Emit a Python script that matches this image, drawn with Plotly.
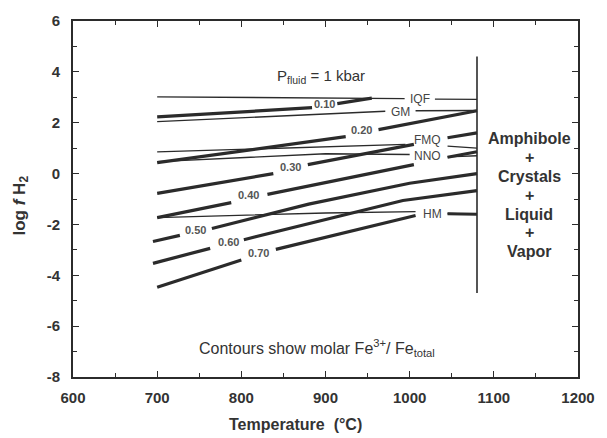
import plotly.graph_objects as go

# ---------------- data ----------------
# oxygen buffers (thin lines), None = gap for label
iqf_T = [700, 994, None, 1030, 1080]
iqf_y = [3.02, 2.95, None, 2.93, 2.92]
gm_T = [700, 971, None, 1007, 1080]
gm_y = [2.04, 2.45, None, 2.47, 2.48]
fmq_T = [700, 995, None, 1045, 1080]
fmq_y = [0.85, 1.15, None, 1.08, 1.00]
nno_T = [700, 900, 1000, None, 1045, 1080]
nno_y = [0.47, 0.78, 0.75, None, 0.66, 0.70]
hm_T = [700, 900, 1007, None, 1045, 1080]
hm_y = [-1.73, -1.55, -1.50, None, -1.57, -1.60]

# Fe3+/Fetotal contours (thick lines)
c010_T = [700, 884, None, 914, 955]
c010_y = [2.23, 2.59, None, 2.75, 2.97]
c020_T = [700, 924, None, 963, 1080]
c020_y = [0.43, 1.45, None, 1.73, 2.47]
c030_T = [700, 838, None, 879, 1005, None, 1045, 1080]
c030_y = [-0.78, 0.00, None, 0.35, 1.15, None, 1.41, 1.60]
c040_T = [700, 788, None, 831, 1005, None, 1045, 1080]
c040_y = [-1.73, -1.14, None, -0.82, 0.35, None, 0.64, 0.86]
c050_T = [695, 727, None, 765, 880, 1000, 1080]
c050_y = [-2.67, -2.43, None, -2.16, -1.20, -0.38, 0.00]
c060_T = [695, 763, None, 803, 992, 1080]
c060_y = [-3.53, -2.94, None, -2.60, -1.06, -0.67]
c070_T = [700, 800, None, 841, 1007, None, 1045, 1080]
c070_y = [-4.47, -3.40, None, -2.98, -1.65, None, -1.58, -1.60]

# amphibole-out boundary
bound_T = [1080, 1080]
bound_y = [-4.7, 4.6]

buffer_names = ["IQF", "GM", "FMQ", "NNO", "HM"]
buffer_label_T = [1012, 989, 1021, 1021, 1027]
buffer_label_y = [2.95, 2.44, 1.32, 0.68, -1.58]

contour_names = ["0.10", "0.20", "0.30", "0.40", "0.50", "0.60", "0.70"]
contour_label_T = [899, 943, 859, 809, 746, 785, 820]
contour_label_y = [2.72, 1.72, 0.25, -0.86, -2.20, -2.70, -3.12]

x_tick_vals = [600, 700, 800, 900, 1000, 1100, 1200]
x_tick_text = ["600", "700", "800", "900", "1000", "1100", "1200"]
y_tick_vals = [-8, -6, -4, -2, 0, 2, 4, 6]
y_tick_text = ["-8", "-6", "-4", "-2", "0", "2", "4", "6"]

field_lines = ["Amphibole", "+", "Crystals", "+", "Liquid", "+", "Vapor"]

# ---------------- figure ----------------
LINE = "#2b2b2b"
TXT = "#333333"
FONT = "Liberation Sans, Arial, sans-serif"

fig = go.Figure()

for T, y in [(iqf_T, iqf_y), (gm_T, gm_y), (fmq_T, fmq_y), (nno_T, nno_y), (hm_T, hm_y)]:
    fig.add_trace(go.Scatter(x=T, y=y, mode="lines", line=dict(color=LINE, width=1.3),
                             showlegend=False, hoverinfo="skip"))

for T, y in [(c010_T, c010_y), (c020_T, c020_y), (c030_T, c030_y), (c040_T, c040_y),
             (c050_T, c050_y), (c060_T, c060_y), (c070_T, c070_y)]:
    fig.add_trace(go.Scatter(x=T, y=y, mode="lines", line=dict(color=LINE, width=3.2),
                             showlegend=False, hoverinfo="skip"))

fig.add_trace(go.Scatter(x=bound_T, y=bound_y, mode="lines", line=dict(color=LINE, width=1.6),
                         showlegend=False, hoverinfo="skip"))

ann = []
for n, t, v in zip(buffer_names, buffer_label_T, buffer_label_y):
    ann.append(dict(x=t, y=v, text=n, showarrow=False, xref="x", yref="y",
                    font=dict(family=FONT, size=12, color="#444")))
for n, t, v in zip(contour_names, contour_label_T, contour_label_y):
    ann.append(dict(x=t, y=v, text="<b>" + n + "</b>", showarrow=False, xref="x", yref="y",
                    font=dict(family=FONT, size=11, color="#555")))

# field label lines
y0 = 1.37
for i, s in enumerate(field_lines):
    ann.append(dict(x=1142, y=y0 - i * 0.74, text="<b>" + s + "</b>", showarrow=False,
                    xref="x", yref="y", font=dict(family=FONT, size=16, color=TXT)))

ann.append(dict(x=895, y=3.8, text="P<sub>fluid</sub> = 1 kbar", showarrow=False,
                xref="x", yref="y", font=dict(family=FONT, size=15, color=TXT)))
ann.append(dict(x=890, y=-6.85, text="Contours show molar Fe<sup>3+</sup>/ Fe<sub>total</sub>",
                showarrow=False, xref="x", yref="y", font=dict(family=FONT, size=16, color=TXT)))

# axis titles (placed in paper coordinates)
plot_w = 607 - 73 - 19
plot_h = 438 - 20 - 61
ann.append(dict(x=(300 - 73) / plot_w, y=-(425 - 377) / plot_h, xref="paper", yref="paper",
                text="<b>Temperature  (°C)</b>", showarrow=False, xanchor="center", yanchor="middle",
                font=dict(family=FONT, size=16, color=TXT)))
ann.append(dict(x=-(73 - 20) / plot_w, y=(377 - 205) / plot_h, xref="paper", yref="paper",
                text="<b>log <i>f</i> H<sub>2</sub></b>", showarrow=False, textangle=-90,
                xanchor="center", yanchor="middle",
                font=dict(family=FONT, size=17, color=TXT)))

fig.update_layout(
    width=607, height=438,
    margin=dict(l=73, r=19, t=20, b=61),
    paper_bgcolor="white", plot_bgcolor="white",
    font=dict(family=FONT, color=TXT),
    annotations=ann,
    xaxis=dict(range=[600, 1200], tickvals=x_tick_vals, ticktext=x_tick_text,
               ticks="inside", ticklen=6, tickwidth=1.3, tickcolor=LINE,
               showline=True, linecolor=LINE, linewidth=1.6, mirror="ticks",
               showgrid=False, zeroline=False,
               tickfont=dict(family=FONT, size=15, color=TXT, weight="bold"),
               minor=dict(ticks="inside", dtick=50, ticklen=4, tickwidth=1.2, tickcolor=LINE),
               ticklabelstandoff=6),
    yaxis=dict(range=[-8, 6], tickvals=y_tick_vals, ticktext=y_tick_text,
               ticks="inside", ticklen=6, tickwidth=1.3, tickcolor=LINE,
               showline=True, linecolor=LINE, linewidth=1.6, mirror="ticks",
               showgrid=False, zeroline=False,
               tickfont=dict(family=FONT, size=15, color=TXT, weight="bold"),
               minor=dict(ticks="inside", dtick=1, ticklen=4, tickwidth=1.2, tickcolor=LINE),
               ticklabelstandoff=8),
)

fig.write_html("out.html")
